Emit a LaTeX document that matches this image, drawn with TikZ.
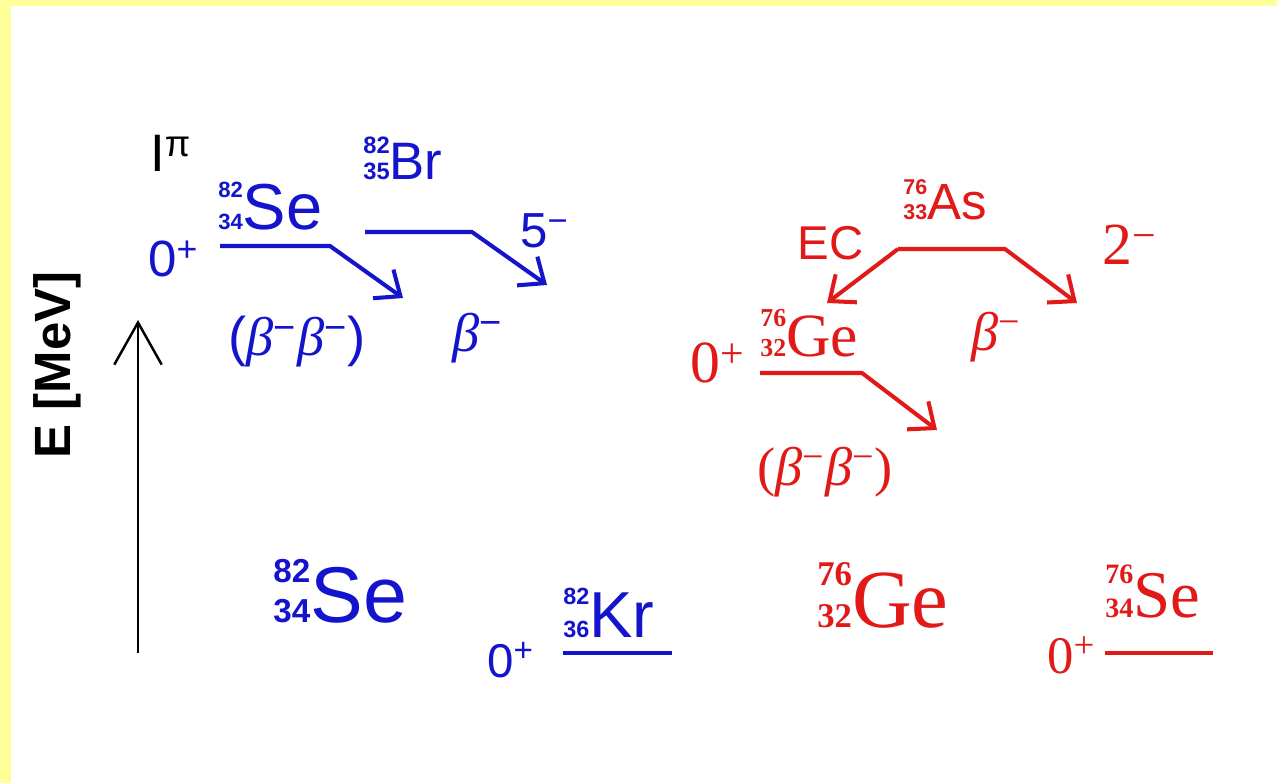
\documentclass[tikz,border=0pt]{standalone}
\usepackage{fontspec}
\usepackage{graphicx}
\setmainfont{Liberation Sans}
\newfontfamily\serifrm{Liberation Serif}
\usetikzlibrary{arrows.meta}

\definecolor{levblue}{RGB}{20,20,205}
\definecolor{levred}{RGB}{225,25,25}
\definecolor{frameyellow}{RGB}{255,255,153}

% isotope with mass and charge numbers on the left
\newcommand{\nuc}[4][.4]{\rlap{\raisebox{.5em}{\scalebox{#1}{\bfseries #2}}}\scalebox{#1}{\bfseries #3}#4}
\newcommand{\fs}[1]{\fontsize{#1}{#1}\selectfont}
\newcommand{\bet}{{\serifrm\itshape β}\textsuperscript{−}}

\begin{document}
\begin{tikzpicture}[
  x=0.02cm,y=-0.02cm,
  lbl/.style={inner sep=0,anchor=base west},
  lev/.style={line width=2pt},
  decay/.style={line width=2.3pt,line join=round,-{Straight Barb[length=12pt,width=20pt]}}
]
  \fill[frameyellow] (0,0) rectangle (1277,783);
  \fill[white] (11,6) rectangle (1277,783);
  \useasboundingbox (0,0) rectangle (1277,783);

  % energy axis
  \coordinate (e0) at (138,653);
  \coordinate (e1) at (138,320);
  \draw[line width=1.4pt,-{Straight Barb[length=24pt,width=27pt]}] (e0) -- (e1);
  \node[rotate=90,font=\fs{29pt}\bfseries] (eaxis) at (57,365) {E [MeV]};
  \node[lbl,font=\fs{30pt}] (ipi) at (150,172) {I\textsuperscript{π}};

  % Se-82 system
  \begin{scope}[levblue,text=levblue]
    \node[lbl,font=\fs{29pt}] (sezero) at (148,277) {0\textsuperscript{+}};
    \node[lbl,font=\fs{37pt}] (setop) at (218,230) {\nuc[.34]{82}{34}{Se}};
    \coordinate (sea) at (220,246);
    \coordinate (seb) at (330,246);
    \coordinate (sec) at (403,298);
    \draw[decay] (sea) -- (seb) -- (sec);

    \node[lbl,font=\fs{30pt}] (brtop) at (363,180) {\nuc[.45]{82}{35}{Br}};
    \node[lbl,font=\fs{28pt}] (brspin) at (520,248) {5\textsuperscript{−}};
    \coordinate (bra) at (365,232);
    \coordinate (brb) at (472,232);
    \coordinate (brc) at (547,285);
    \draw[decay] (bra) -- (brb) -- (brc);

    \node[font=\fs{31pt}] (bbblue) at (297,342) {(\bet\bet)};
    \node[font=\fs{31pt}] (bblue) at (478,338) {\bet};

    \node[lbl,font=\fs{45pt}] (sebot) at (273,622) {\nuc[.42]{82}{34}{Se}};
    \node[lbl,font=\fs{27pt}] (krzero) at (487,677) {0\textsuperscript{+}};
    \node[lbl,font=\fs{37pt}] (krbot) at (563,637) {\nuc[.36]{82}{36}{Kr}};
    \coordinate (kra) at (563,653);
    \coordinate (krb) at (672,653);
    \draw[lev] (kra) -- (krb);
  \end{scope}

  % Ge-76 system
  \begin{scope}[levred,text=levred]
    \node[lbl,font=\fs{29pt}] (astop) at (903,220) {\nuc[.42]{76}{33}{As}};
    \node[lbl,font=\fs{27pt}] (ec) at (797,260) {EC};
    \node[lbl,font=\serifrm\fs{34pt}] (asspin) at (1102,265) {2\textsuperscript{−}};
    \coordinate (asa) at (898,249);
    \coordinate (asb) at (1005,249);
    \coordinate (asl) at (827,303);
    \coordinate (asr) at (1077,303);
    \draw[decay] (asa) -- (asl);
    \draw[decay] (asa) -- (asb) -- (asr);

    \node[lbl,font=\serifrm\fs{34pt}] (gezero) at (690,383) {0\textsuperscript{+}};
    \node[lbl,font=\serifrm\fs{35pt}] (getop) at (760,357) {\nuc[.42]{76}{32}{Ge}};
    \coordinate (gea) at (760,373);
    \coordinate (geb) at (862,373);
    \coordinate (gec) at (937,430);
    \draw[decay] (gea) -- (geb) -- (gec);

    \node[font=\serifrm\fs{31pt}] (bred) at (996,337) {\bet};
    \node[font=\serifrm\fs{31pt}] (bbred) at (825,472) {(\bet\bet)};

    \node[lbl,font=\serifrm\fs{47pt}] (gebot) at (817,627) {\nuc[.42]{76}{32}{Ge}};
    \node[lbl,font=\serifrm\fs{30pt}] (sezerob) at (1047,673) {0\textsuperscript{+}};
    \node[lbl,font=\serifrm\fs{38pt}] (sebotb) at (1105,617) {\nuc[.42]{76}{34}{Se}};
    \coordinate (sba) at (1105,653);
    \coordinate (sbb) at (1213,653);
    \draw[lev] (sba) -- (sbb);
  \end{scope}
\end{tikzpicture}
\end{document}
